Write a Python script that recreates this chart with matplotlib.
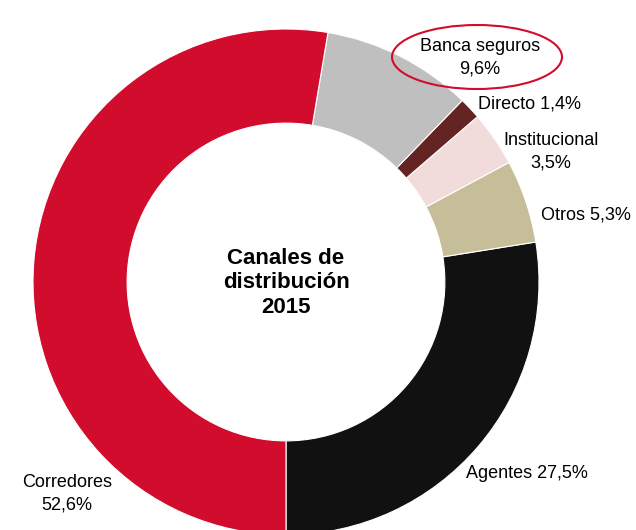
import matplotlib
matplotlib.use("Agg")
import matplotlib.pyplot as plt
from matplotlib.patches import Ellipse

# Canales de distribución 2015 (%), counterclockwise from the bottom
labels = ["Agentes", "Otros", "Institucional", "Directo", "Banca seguros", "Corredores"]
values = [27.5, 5.3, 3.5, 1.4, 9.6, 52.6]
colors = ["#111111", "#C6BE98", "#F2DCDB", "#632423", "#BFBFBF", "#D20C2D"]

plt.rcParams["font.family"] = ["Liberation Sans", "DejaVu Sans"]

W, H = 636, 530
fig = plt.figure(figsize=(W / 100, H / 100), dpi=100)
ax = fig.add_axes([0, 0, 1, 1])

cx, cy, r = 286, H - 282, 253
ax.pie(values, colors=colors, startangle=-90, counterclock=True,
       center=(cx, cy), radius=r,
       wedgeprops=dict(width=r * 0.372, edgecolor="white", linewidth=0.8))
ax.set_xlim(0, W)
ax.set_ylim(0, H)
ax.set_aspect("equal")
ax.axis("off")

fs = 13
ax.text(cx, cy - 1, "Canales de\ndistribución\n2015", ha="center", va="center",
        fontsize=16, fontweight="bold", linespacing=1.2)

ax.text(480, H - 58, "Banca seguros\n9,6%", ha="center", va="center", fontsize=fs,
        linespacing=1.4)
ax.add_patch(Ellipse((477, H - 57), 170, 64, fill=False, edgecolor="#D20C2D", linewidth=1.5))
ax.text(478, H - 104, "Directo 1,4%", ha="left", va="center", fontsize=fs)
ax.text(551, H - 152, "Institucional\n3,5%", ha="center", va="center", fontsize=fs,
        linespacing=1.4)
ax.text(541, H - 215, "Otros 5,3%", ha="left", va="center", fontsize=fs)
ax.text(466, H - 474, "Agentes 27,5%", ha="left", va="center", fontsize=fs)
ax.text(67, H - 494, "Corredores\n52,6%", ha="center", va="center", fontsize=fs,
        linespacing=1.4)

fig.savefig("out.png", dpi=100)
